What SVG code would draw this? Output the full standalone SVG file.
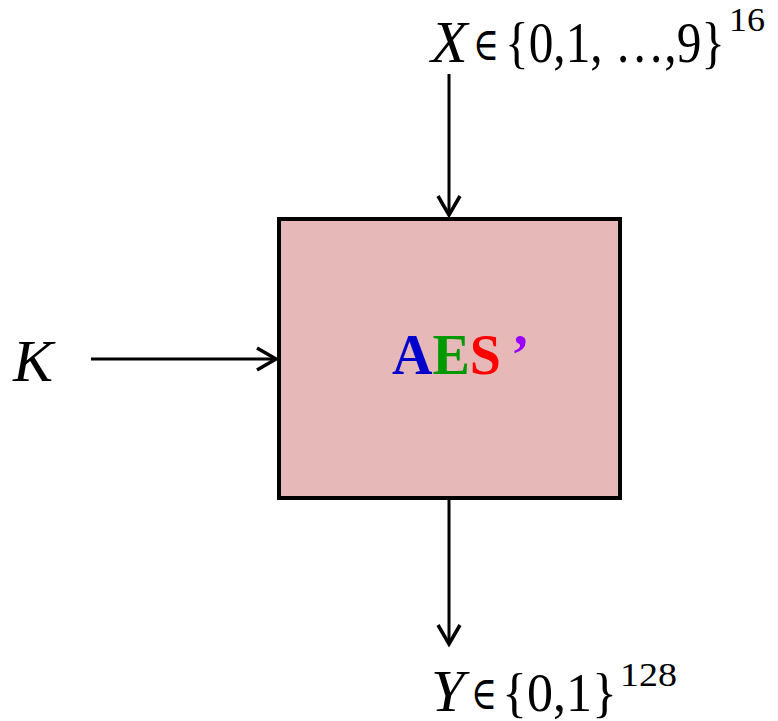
<svg xmlns="http://www.w3.org/2000/svg" width="778" height="721" viewBox="0 0 778 721">
<style>
.lbl{font-family:"Liberation Serif","DejaVu Serif",serif;fill:#000}
.it{font-style:italic}
.conn{stroke:#000;stroke-width:3;fill:none}
.aes{font-family:"Liberation Serif",serif;font-weight:bold;font-size:56px}
</style>
<defs>
<marker id="ah" viewBox="-24 -14 28 28" refX="0" refY="0" markerWidth="28" markerHeight="28" markerUnits="userSpaceOnUse" orient="auto">
<path d="M-19,-11 L0,0 L-19,11" fill="none" stroke="#000" stroke-width="3.5" stroke-linejoin="miter"/>
</marker>
</defs>
<rect width="778" height="721" fill="#fff"/>
<g id="aes-box">
<rect x="279" y="219" width="341" height="279" fill="#E6B8B7" stroke="#000" stroke-width="4"/>
<text x="392" y="374" class="aes"><tspan fill="#0000CC">A</tspan><tspan fill="#009900">E</tspan><tspan fill="#FF0000">S</tspan><tspan fill="#9900FF" dx="10">’</tspan></text>
</g>
<g id="x-label">
<text x="431" y="62" class="lbl it" font-size="60">X</text>
<text x="473" y="60" class="lbl" font-size="46" textLength="26" lengthAdjust="spacingAndGlyphs">∈</text>
<text x="505" y="62" class="lbl" font-size="56" textLength="220" lengthAdjust="spacingAndGlyphs">{0,1, …,9}</text>
<text x="729" y="31" class="lbl" font-size="34" textLength="36" lengthAdjust="spacingAndGlyphs">16</text>
</g>
<g id="k-label">
<text x="13" y="381" class="lbl it" font-size="60">K</text>
</g>
<g id="y-label">
<text x="431" y="711" class="lbl it" font-size="60">Y</text>
<text x="471" y="709" class="lbl" font-size="46" textLength="26" lengthAdjust="spacingAndGlyphs">∈</text>
<text x="502" y="711" class="lbl" font-size="54" textLength="115" lengthAdjust="spacingAndGlyphs">{0,1}</text>
<text x="620" y="686" class="lbl" font-size="34" textLength="57" lengthAdjust="spacingAndGlyphs">128</text>
</g>
<g id="connectors">
<line class="conn" x1="449" y1="74" x2="449" y2="215" marker-end="url(#ah)"/>
<line class="conn" x1="91" y1="359" x2="276" y2="359" marker-end="url(#ah)"/>
<line class="conn" x1="449" y1="500" x2="449" y2="644" marker-end="url(#ah)"/>
</g>
</svg>
